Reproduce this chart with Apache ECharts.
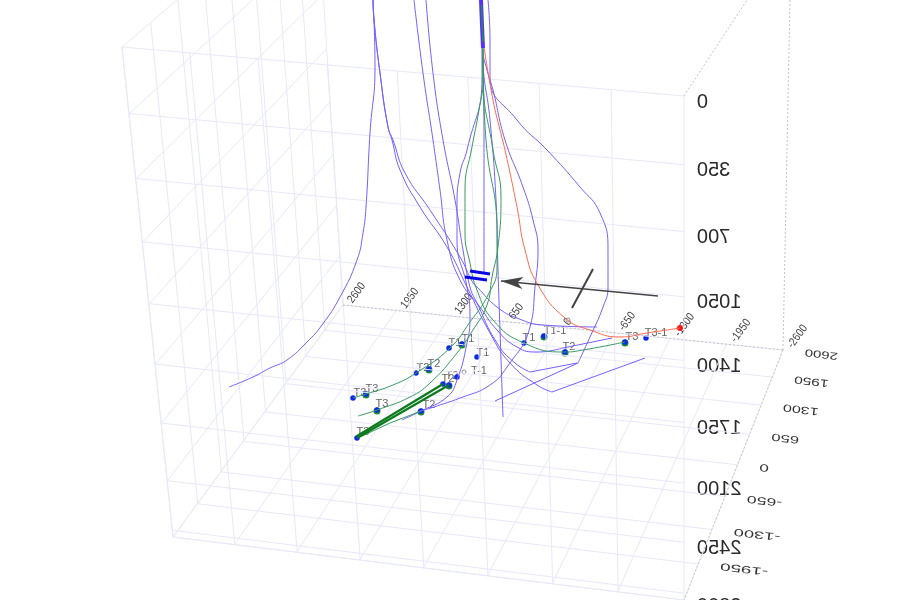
<!DOCTYPE html>
<html><head><meta charset="utf-8">
<style>html,body{margin:0;background:#fff}#c{width:900px;height:600px;filter:blur(0.35px)}</style>
<script src="https://cdn.jsdelivr.net/npm/echarts@6/dist/echarts.min.js"></script>
</head><body><div id="c"></div>
<script>
// Tick labels of the three box axes
const xTicks = ['2600','1950','1300','650','0','-650','-1300','-1950','-2600'];
const yTicks = ['2600','1950','1300','650','0','-650','-1300','-1950'];
const zTicks = ['0','350','700','1050','1400','1750','2100','2450','2800'];

// Box corners
const wallFront = [[122,47],[684,96],[684,600],[173,537]];
const wallLeft  = [[316,-119],[122,47],[173,537],[343,305]];
const floorQuad = [[343,305],[783,350],[684,600],[173,537]];
const dashedEdges = [
  [[343,305],[783,350]], [[783,350],[684,600]], [[783,350],[790,0]], [[684,96],[747,0]]
];

// Well traces
const wellA = [[373,0],[375,67],[370,133],[366,207],[363,233],[357,260],[340,297],[322,325],[307,342],[287,360],[270,368],[253,377],[229,387]];
const wellB = [[373,0],[374,20],[380,73],[388,127],[393,140],[405,173],[430,210],[460,257],[473,283],[477,287],[497,307],[517,318],[543,325],[597,327]];
const wellC = [[373,0],[374,20],[380,73],[388,127],[392,140],[400,170],[420,207],[447,247],[467,287],[490,333],[510,363],[537,385],[552,392]];
const toeC  = [[552,392],[645,358]];
const wellD = [[414,0],[423,73],[433,140],[440,190],[447,240],[460,280],[480,307],[497,330],[517,347],[537,352],[563,348]];
const toeD  = [[563,348],[612,338]];
const wellE = [[426,0],[433,73],[443,140],[455,200],[463,250],[470,287],[477,303],[497,343],[515,363],[530,372]];
const toeE  = [[530,372],[577,363]];
const wellF = [[482,0],[482,60],[482,77],[467,150],[460,173],[457,207],[457,240],[467,287],[470,317],[467,343],[457,380],[447,397],[421,411],[402,420]];
const wellG = [[482,0],[483,50],[487,70],[493,90],[505,140],[523,187],[533,220],[538,250],[535,287],[530,327],[507,367],[490,385],[463,397],[421,411]];
const wellH = [[488,0],[490,40],[490,77],[517,120],[547,150],[580,187],[600,213],[608,250],[608,287],[603,307],[590,337],[578,363]];
const toeH  = [[578,363],[495,401]];
const wellI = [[482,0],[483,60],[490,120],[496,200],[498,270],[500,330],[503,417]];
const wellJ = [[482,0],[483,60],[484,140],[484,273]];
const trunk = [[481,0],[482,25],[483,48]];
const trunkCore = [[481.5,5],[483,42]];
const redWell = [[484,47],[493,100],[500,130],[505,150],[517,207],[525,250],[538,285],[565,318],[590,330],[620,337],[647,333],[680,328]];
const greenA = [[482,0],[483,80],[479,110],[472,147],[465,190],[465,233],[470,263],[477,290],[493,320],[524,343],[565,352],[583,350],[625,342]];
const greenB = [[482,0],[483,80],[493,150],[501,197],[498,247],[492,277],[487,305],[473,330],[457,353],[430,383],[410,397],[377,410],[358,416]];
const greenC = [[482,0],[483,60],[486,140],[497,233],[497,267],[488,295],[470,322],[450,348],[416,373],[393,385],[366,394],[353,398]];
const greenD = [[421,411],[390,423],[360,437]];
const thickA = [[443,384],[357,436]];
const thickB = [[449,385],[357,438]];
const stubA = [[470,271],[490,274]];
const stubB = [[465,277],[487,280]];
const pointerLine = [[658,296],[501,281]];
const crossTick = [[572,308],[593,269]];

// Well-path markers
const blueDots = [[353,398],[366,394],[377,410],[357,438],[416,373],[429,369],[449,348],[462,344],[477,357],[443,384],[449,385],[421,411],[457,377],[524,343],[544,336],[565,352],[625,342],[646,338]];
const greenDots = [[366,395],[377,411],[429,370],[462,345],[449,386],[421,412],[544,337],[565,353],[625,343]];
const redDots = [[680,328]];
const openDots = [[464,372],[568,320]];
const markerNames = ['T3','T3','T3','T3','T2','T2','T1','T1','T1','T2','T2','T2','T-1','T1','T1-1','T2','T3','T3-1'];
const markerSpots = [[360,393],[372,389],[382,404],[363,432],[423,368],[434,364],[455,343],[468,339],[483,353],[448,379],[452,376],[429,405],[479,371],[529,338],[555,331],[569,347],[632,337],[656,333]];

const PURPLE='#7560ff', GREEN='#3a9a62', DARK='#0b7a1c', GRID='#e8e8fb';

function quadMap(q){
  const [[x0,y0],[x1,y1],[x2,y2],[x3,y3]]=q;
  const dx1=x1-x2,dx2=x3-x2,sx=x0-x1+x2-x3,dy1=y1-y2,dy2=y3-y2,sy=y0-y1+y2-y3;
  const d=dx1*dy2-dx2*dy1;
  const g=(sx*dy2-dx2*sy)/d,h=(dx1*sy-sx*dy1)/d;
  const a=x1-x0+g*x1,b=x3-x0+h*x3,c=x0,e=y1-y0+g*y1,f=y3-y0+h*y3;
  return (u,v)=>{const w=g*u+h*v+1;return [(a*u+b*v+c)/w,(e*u+f*v+y0)/w];};
}
const front=quadMap(wallFront), left=quadMap(wallLeft), floor=quadMap(floorQuad);
const series=[];
function line(data,color,width,extra){
  series.push(Object.assign({type:'line',data,symbol:'none',silent:true,animation:false,
    lineStyle:{color,width}},extra||{}));
}
function gridOf(map){
  for(let i=0;i<=8;i++){
    line([map(i/8,0),map(i/8,1)],GRID,1);
    line([map(0,i/8),map(1,i/8)],GRID,1);
  }
}
gridOf(left); gridOf(floor); gridOf(front);
const fb0=front(0,0.985), fb1=front(1,0.985);
line([fb0,fb1],GRID,1);
dashedEdges.forEach(e=>line(e,'#c4c4c4',1,{lineStyle:{color:'#c4c4c4',width:1,type:[2,2]}}));

[wellA,wellB,wellC,wellD,wellE,wellF,wellG,wellH,wellI,wellJ].forEach(w=>line(w,PURPLE,1,{smooth:0.5}));
[toeC,toeD,toeE,toeH].forEach(w=>line(w,PURPLE,1));
[greenA,greenB,greenC].forEach(w=>line(w,GREEN,1,{smooth:0.5}));
line(greenD,GREEN,1);
line(redWell,'#ff6a50',1,{smooth:0.5});
line(trunk,'#5a30ff',4);
line(trunkCore,'#1f8a50',1.5);
line(thickA,DARK,2.2); line(thickB,DARK,2.2);
line(stubA,'#0808e0',3); line(stubB,'#0808e0',3);
line(crossTick,'#444',2);
series.push({type:'line',data:[],silent:true,animation:false,
  markLine:{silent:true,animation:false,symbol:['none','arrow'],symbolSize:[9,22],
    label:{show:false},lineStyle:{color:'#444',width:1.6,type:'solid'},
    data:[[{coord:pointerLine[0]},{coord:pointerLine[1]}]]}});

function dots(data,color,size){
  series.push({type:'scatter',data,symbolSize:size,silent:true,animation:false,itemStyle:{color,opacity:1}});
}
dots(greenDots,'#1f8a3c',7);
dots(blueDots,'#0a2ae8',5.5);
dots(redDots,'#ff1a1a',6);
series.push({type:'scatter',data:openDots,symbolSize:4,silent:true,animation:false,
  itemStyle:{color:'#fff',borderColor:'#777',borderWidth:1}});

// Real-text labels drawn in axis coordinates: [x, y, text, rotationDeg, scaleX, scaleY, align, size, colour]
const rows=[];
zTicks.forEach((t,i)=>{const p=front(1,i/8);
  rows.push([697,p[1]+6,t,0,-1,1,'right',20,'#2a2a2a']);});
xTicks.forEach((t,i)=>{const p=floor(i/8,0);
  rows.push([p[0]+7,p[1]-3,t,54,0.92,1.05,'left',11,'#444']);});
yTicks.forEach((t,i)=>{const p=floor(1,i/8);
  const s=1.15+0.3*i/7;
  rows.push([p[0]+22,p[1]+2,t,173.4,s,0.8,'right',13,'#333']);});
markerNames.forEach((t,i)=>{
  rows.push([markerSpots[i][0],markerSpots[i][1],t,0,1,1,'center',11,'#666']);});

series.push({type:'custom',silent:true,animation:false,clip:false,
  data:rows.map(r=>[r[0],r[1]]),
  renderItem(params,api){
    const r=rows[params.dataIndex];
    const pt=api.coord([r[0],r[1]]);
    return {type:'text',x:pt[0],y:pt[1],rotation:r[3]*Math.PI/180,scaleX:r[4],scaleY:r[5],
      style:{text:r[2],fontFamily:'"Liberation Sans"',fontSize:r[7],fill:r[8],align:r[6],verticalAlign:'middle'}};
  }});

const chart=echarts.init(document.getElementById('c'),null,{renderer:'canvas'});
chart.setOption({animation:false,backgroundColor:'#fff',
  grid:{left:0,right:0,top:0,bottom:0},
  xAxis:{type:'value',min:0,max:900,show:false},
  yAxis:{type:'value',min:0,max:600,inverse:true,show:false},
  series});
</script></body></html>
